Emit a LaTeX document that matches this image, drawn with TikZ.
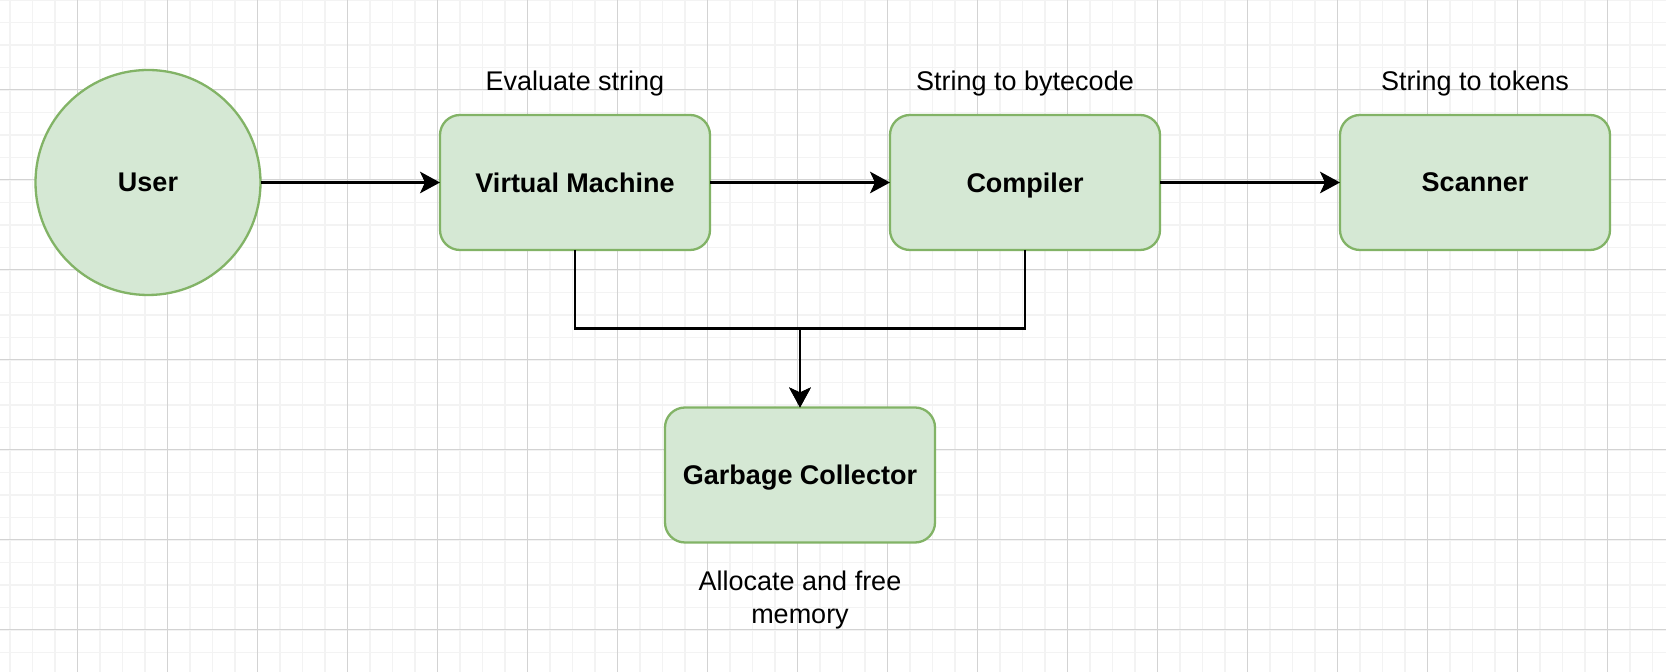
\documentclass[tikz,border=0pt]{standalone}
\usepackage{fontspec}
\setmainfont{Liberation Sans}
\usetikzlibrary{arrows.meta}
\definecolor{boxfill}{HTML}{D5E8D4}
\definecolor{boxline}{HTML}{82B366}
\definecolor{gridmaj}{HTML}{D3D3D3}
\definecolor{gridmin}{HTML}{F3F3F3}
\tikzset{
	block/.style={rectangle, rounded corners=10pt, draw=boxline, fill=boxfill, line width=1.15pt,
		minimum width=135pt, minimum height=67.5pt, outer sep=0pt, inner sep=0pt,
		font=\fontsize{13.5}{16.2}\selectfont\bfseries, text depth=0pt},
	userdisc/.style={block, circle, minimum size=112.5pt},
	caption/.style={anchor=base, inner sep=0pt, align=center, font=\fontsize{13.5}{16.2}\selectfont},
	flow/.style={line width=1.15pt, -{Stealth[length=10pt, width=10.8pt, inset=2.5pt]}},
	gridmajor/.style={draw=gridmaj, line width=0.5pt},
	gridminor/.style={draw=gridmin, line width=0.8pt}
}
\begin{document}
\begin{tikzpicture}[x=0.5pt, y=-0.5pt]
	\useasboundingbox[fill=white] (0,0) rectangle (1666,672);
	% background grid
	\foreach \k in {0,...,74}
		\draw[gridminor] ({9.8+22.5*\k},0) -- ({9.8+22.5*\k},672);
	\foreach \k in {0,...,29}
		\draw[gridminor] (0,{22.5*\k}) -- (1666,{22.5*\k});
	\foreach \k in {0,...,17}
		\draw[gridmajor] ({77.3+90*\k},0) -- ({77.3+90*\k},672);
	\foreach \k in {0,...,7}
		\draw[gridmajor] (0,{90*\k}) -- (1666,{90*\k});

	\node[userdisc] (user) at (148,182.5) {User};
	\node[block] (vm) at (575,182.5) {Virtual Machine};
	\node[block] (comp) at (1025,182.5) {Compiler};
	\node[block] (scan) at (1475,182.5) {Scanner};
	\node[block] (gc) at (800,475) {Garbage Collector};

	\node[caption] (vmtxt) at (575,90.7) {Evaluate string};
	\node[caption] (comptxt) at (1025,90.7) {String to bytecode};
	\node[caption] (scantxt) at (1475,90.7) {String to tokens};
	% base of a two-line node is the last line
	\node[caption] (gctxt) at (800,623.3) {Allocate and free\\memory};

	\coordinate (join) at (800,328.5);
	\draw[flow] (user) -- (vm);
	\draw[flow] (vm) -- (comp);
	\draw[flow] (comp) -- (scan);
	\draw[flow] (vm.south) |- (join) -- (gc.north);
	\draw[flow] (comp.south) |- (join) -- (gc.north);
\end{tikzpicture}
\end{document}
